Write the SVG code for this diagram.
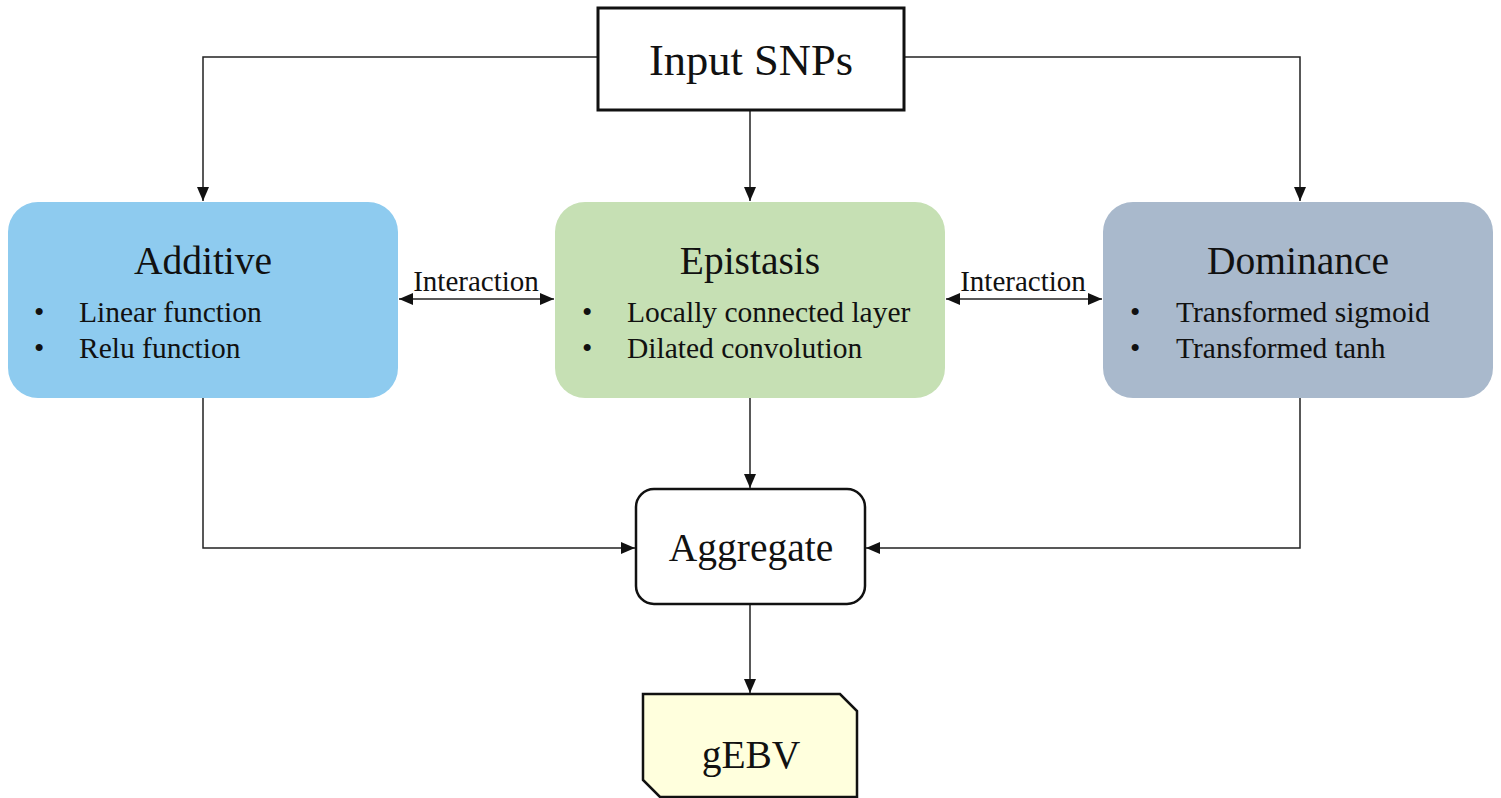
<svg xmlns="http://www.w3.org/2000/svg" width="1501" height="798" viewBox="0 0 1501 798">
  <style>
    text { font-family: "Liberation Serif", "Times New Roman", serif; fill: #111; }
    .title { font-size: 39.5px; text-anchor: middle; }
    .item { font-size: 29.5px; }
    .label { font-size: 29px; text-anchor: middle; }
    .wire { fill: none; stroke: #222; stroke-width: 1.5; }
  </style>
  <defs>
    <marker id="head" viewBox="0 0 14 12" refX="14" refY="6" markerWidth="14" markerHeight="12" markerUnits="userSpaceOnUse" orient="auto-start-reverse">
      <path d="M0,0 L14,6 L0,12 Z" fill="#111"/>
    </marker>
  </defs>

  <rect width="1501" height="798" fill="#ffffff"/>

  <g id="connectors">
    <path class="wire" d="M597,57 H203 V201" marker-end="url(#head)"/>
    <path class="wire" d="M750,110 V201" marker-end="url(#head)"/>
    <path class="wire" d="M904,57 H1300 V201" marker-end="url(#head)"/>
    <path class="wire" d="M399,299 H554" marker-start="url(#head)" marker-end="url(#head)"/>
    <path class="wire" d="M946,299 H1102" marker-start="url(#head)" marker-end="url(#head)"/>
    <path class="wire" d="M203,398 V548 H635" marker-end="url(#head)"/>
    <path class="wire" d="M750,398 V488" marker-end="url(#head)"/>
    <path class="wire" d="M1300,398 V548 H866" marker-end="url(#head)"/>
    <path class="wire" d="M750,604 V693" marker-end="url(#head)"/>
    <text class="label" x="476" y="291">Interaction</text>
    <text class="label" x="1023" y="291">Interaction</text>
  </g>

  <g id="input-snps">
    <rect x="598" y="8" width="306" height="102" fill="#fff" stroke="#111" stroke-width="3"/>
    <text class="title" x="751" y="75" style="font-size:44.5px">Input SNPs</text>
  </g>

  <g id="additive">
    <rect x="8" y="202" width="390" height="196" rx="30" fill="#8ecbef"/>
    <text class="title" x="203" y="274">Additive</text>
    <text class="item" x="34" y="322">•</text>
    <text class="item" x="79" y="322">Linear function</text>
    <text class="item" x="34" y="358">•</text>
    <text class="item" x="79" y="358">Relu function</text>
  </g>

  <g id="epistasis">
    <rect x="555" y="202" width="390" height="196" rx="30" fill="#c6e0b4"/>
    <text class="title" x="750" y="274">Epistasis</text>
    <text class="item" x="582" y="322">•</text>
    <text class="item" x="627" y="322">Locally connected layer</text>
    <text class="item" x="582" y="358">•</text>
    <text class="item" x="627" y="358">Dilated convolution</text>
  </g>

  <g id="dominance">
    <rect x="1103" y="202" width="390" height="196" rx="30" fill="#a9b9cc"/>
    <text class="title" x="1298" y="274">Dominance</text>
    <text class="item" x="1130" y="322">•</text>
    <text class="item" x="1176" y="322">Transformed sigmoid</text>
    <text class="item" x="1130" y="358">•</text>
    <text class="item" x="1176" y="358">Transformed tanh</text>
  </g>

  <g id="aggregate">
    <rect x="636" y="489" width="229" height="115" rx="18" fill="#fff" stroke="#111" stroke-width="2.5"/>
    <text class="title" x="751" y="561">Aggregate</text>
  </g>

  <g id="gebv">
    <path d="M643,694 H840 L857,711 V797 H660 L643,780 Z" fill="#ffffdd" stroke="#111" stroke-width="2.5"/>
    <text class="title" x="751" y="768">gEBV</text>
  </g>
</svg>
